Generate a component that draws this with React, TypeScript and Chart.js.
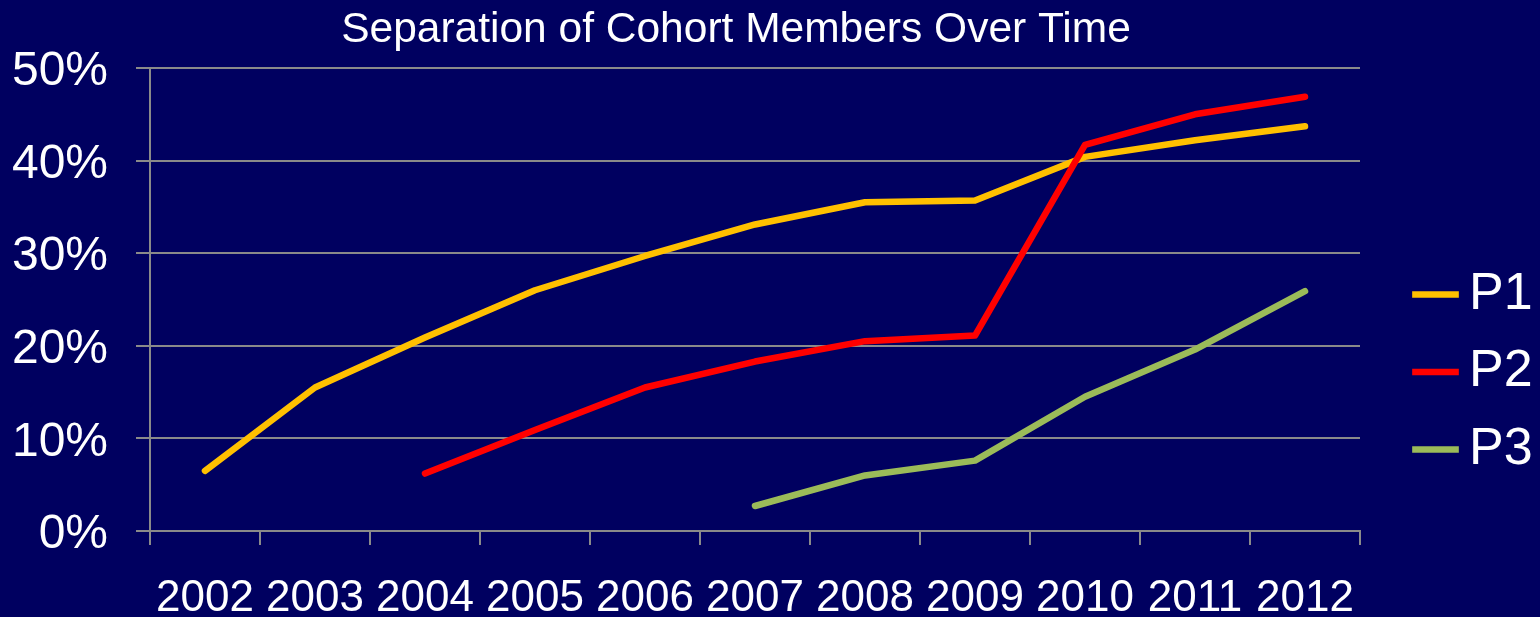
import React, { useEffect, useRef } from "react";
import { Chart, registerables } from "chart.js";

Chart.register(...registerables);

const TITLE = "Separation of Cohort Members Over Time";
const YEARS = ["2002", "2003", "2004", "2005", "2006", "2007", "2008", "2009", "2010", "2011", "2012"];
const P1 = [6.5, 15.5, 20.9, 26.0, 29.7, 33.1, 35.5, 35.7, 40.4, 42.2, 43.7];
const P2 = [null, null, 6.2, 10.9, 15.5, 18.3, 20.5, 21.1, 41.7, 45.0, 46.9];
const P3 = [null, null, null, null, null, 2.7, 6.0, 7.6, 14.5, 19.6, 25.9];
const SERIES_NAMES = ["P1", "P2", "P3"];
const SERIES_COLORS = ["#FFC000", "#FF0000", "#9BBB59"];
const SERIES_ORDER = [1, 0, 2];
const Y_MIN = 0;
const Y_MAX = 50;
const Y_STEP = 10;

const BG = "#000060";
const GRID = "#8a8a8a";
const FONT = "'Liberation Sans', Arial, sans-serif";

export default function App() {
  const ref = useRef<HTMLCanvasElement>(null);

  useEffect(() => {
    document.body.style.margin = "0";
    const seriesData = [P1, P2, P3];
    const chart = new Chart(ref.current as HTMLCanvasElement, {
      type: "line",
      data: {
        labels: YEARS,
        datasets: SERIES_NAMES.map((name, i) => ({
          label: name,
          data: seriesData[i],
          borderColor: SERIES_COLORS[i],
          backgroundColor: SERIES_COLORS[i],
          borderWidth: 6.5,
          pointRadius: 0,
          pointHoverRadius: 0,
          pointStyle: "line",
          tension: 0,
          fill: false,
          spanGaps: false,
          borderCapStyle: "round",
          borderJoinStyle: "round",
          order: SERIES_ORDER[i],
        })),
      },
      options: {
        animation: false,
        responsive: false,
        devicePixelRatio: 1,
        layout: { padding: { left: -68, right: 0, top: 0, bottom: 0 } },
        plugins: {
          title: {
            display: true,
            text: TITLE,
            color: "#ffffff",
            fullSize: true,
            font: { family: FONT, size: 42.5, weight: "normal", lineHeight: 1.2 },
            padding: { top: 4.5, bottom: 12.5 },
          },
          legend: {
            display: true,
            position: "right",
            align: "start",
            fullSize: false,
            maxWidth: 137.5,
            title: {
              display: true,
              text: "",
              font: { size: 10, lineHeight: 1.2 },
              padding: { top: 163, bottom: 0 },
            },
            labels: {
              usePointStyle: true,
              pointStyle: "line",
              boxWidth: 15,
              boxHeight: 33,
              padding: 25.5,
              color: "#ffffff",
              font: { family: FONT, size: 52, lineHeight: 1.2 },
              sort: (a: any, b: any) => a.datasetIndex - b.datasetIndex,
            },
          },
          tooltip: { enabled: false },
        },
        scales: {
          x: {
            offset: true,
            grid: {
              display: true,
              drawOnChartArea: false,
              drawTicks: true,
              tickLength: 14,
              color: GRID,
              lineWidth: 2,
              offset: true,
            },
            border: { display: true, color: GRID, width: 2 },
            ticks: {
              color: "#ffffff",
              font: { family: FONT, size: 44, lineHeight: 1.2 },
              padding: 27.5,
              maxRotation: 0,
              autoSkip: false,
            },
            afterFit: (s: any) => {
              s.height = 86;
            },
          },
          y: {
            min: Y_MIN,
            max: Y_MAX,
            grid: { color: GRID, lineWidth: 2, tickLength: 14, drawTicks: true },
            border: { display: true, color: GRID, width: 2 },
            ticks: {
              stepSize: Y_STEP,
              color: "#ffffff",
              font: { family: FONT, size: 48, lineHeight: 1.2 },
              padding: 28,
              labelOffset: 4,
              callback: (v: any) => v + "%",
            },
            afterFit: (s: any) => {
              s.width = 218;
            },
          },
          spacer: {
            type: "linear",
            position: "right",
            display: true,
            grid: { display: false, drawTicks: false },
            border: { display: false },
            ticks: { display: false },
            afterFit: (s: any) => {
              s.width = 42.5;
            },
          },
        },
      } as any,
    });
    return () => chart.destroy();
  }, []);

  return (
    <div style={{ position: "fixed", left: 0, top: 0, width: 1540, height: 617, background: BG }}>
      <canvas ref={ref} width={1540} height={617} style={{ display: "block" }} />
    </div>
  );
}
